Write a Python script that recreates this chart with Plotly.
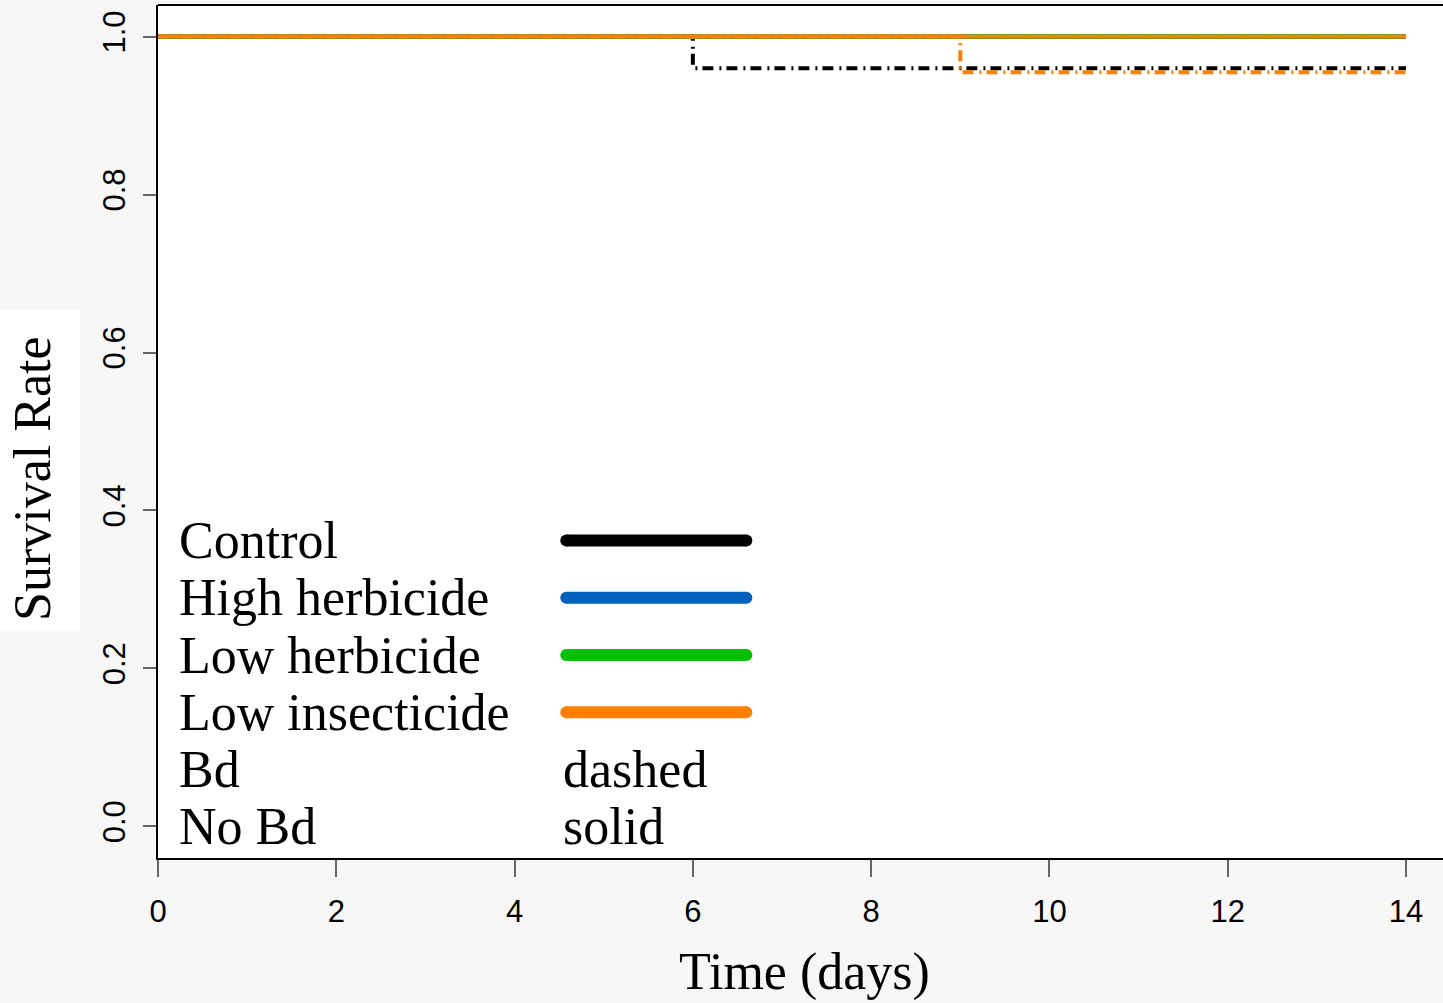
import plotly.graph_objects as go

# ---- data ----
times = [0, 6, 9, 14]
control_bd = [1.0, 0.96, 0.96, 0.96]
control_nobd = [1.0, 1.0, 1.0, 1.0]
high_herb_bd = [1.0, 1.0, 1.0, 1.0]
high_herb_nobd = [1.0, 1.0, 1.0, 1.0]
low_herb_bd = [1.0, 1.0, 1.0, 1.0]
low_herb_nobd = [1.0, 1.0, 1.0, 1.0]
low_insect_bd = [1.0, 1.0, 0.955, 0.955]
low_insect_nobd = [1.0, 1.0, 1.0, 1.0]

x_ticks = [0, 2, 4, 6, 8, 10, 12, 14]
y_ticks = [0.0, 0.2, 0.4, 0.6, 0.8, 1.0]
y_tick_labels = ["0.0", "0.2", "0.4", "0.6", "0.8", "1.0"]

treatments = ["Control", "High herbicide", "Low herbicide", "Low insecticide"]
treatment_colors = ["#000000", "#0060C0", "#00C000", "#FF8000"]
legend_extra = ["Bd", "No Bd"]
legend_extra_right = ["dashed", "solid"]

# ---- styles ----
BD_DASH = "11px,6px,2px,5px"
SERIF = "Palatino Linotype, Book Antiqua, Palatino, Liberation Serif, serif"
SANS = "Liberation Sans, Arial, sans-serif"

fig = go.Figure()

series = [
    (control_nobd, treatment_colors[0], "solid", 4),
    (high_herb_nobd, treatment_colors[1], "solid", 4),
    (control_bd, treatment_colors[0], BD_DASH, 4),
    (high_herb_bd, treatment_colors[1], BD_DASH, 4),
    (low_herb_nobd, treatment_colors[2], "solid", 4),
    (low_herb_bd, treatment_colors[2], BD_DASH, 4),
    (low_insect_nobd, treatment_colors[3], "solid", 4),
    (low_insect_bd, treatment_colors[3], BD_DASH, 4),
]
for vals, col, dash, w in series:
    fig.add_trace(go.Scatter(
        x=times, y=vals, mode="lines", line_shape="hv",
        line=dict(color=col, width=w, dash=dash),
        showlegend=False, hoverinfo="skip"))

# ---- manual legend ----
row_y = [0.362, 0.2895, 0.217, 0.1445, 0.072, -0.0005]
text_x = 0.215
swatch_x0, swatch_x1 = 4.58, 6.60
shapes = []
annotations = []
labels = treatments + legend_extra
for i, lab in enumerate(labels):
    annotations.append(dict(x=text_x, y=row_y[i], xref="x", yref="y", text=lab,
                            showarrow=False, xanchor="left", yanchor="middle",
                            font=dict(family=SERIF, size=52, color="#000000")))
for i, col in enumerate(treatment_colors):
    shapes.append(dict(type="line", xref="x", yref="y", x0=swatch_x0, x1=swatch_x1,
                       y0=row_y[i], y1=row_y[i], line=dict(color=col, width=12)))
    # rounded caps
    for cx in (swatch_x0, swatch_x1):
        shapes.append(dict(type="circle", xref="x", yref="y", xsizemode="pixel",
                           ysizemode="pixel", xanchor=cx, yanchor=row_y[i],
                           x0=-6, x1=6, y0=-6, y1=6, fillcolor=col,
                           line=dict(width=0)))
for j, txt in enumerate(legend_extra_right):
    annotations.append(dict(x=4.52, y=row_y[4 + j], xref="x", yref="y", text=txt,
                            showarrow=False, xanchor="left", yanchor="middle",
                            font=dict(family=SERIF, size=52, color="#000000")))

# axis titles
annotations.append(dict(x=0.5035, y=-0.1336, xref="paper", yref="paper",
                        text="Time (days)", showarrow=False, xanchor="center",
                        yanchor="middle", font=dict(family=SERIF, size=52, color="#000000")))
annotations.append(dict(x=-0.0973, y=0.4455, xref="paper", yref="paper",
                        text="Survival Rate", showarrow=False, textangle=-90,
                        xanchor="center", yanchor="middle",
                        font=dict(family=SERIF, size=52, color="#000000")))

# white box behind y title
shapes.append(dict(type="rect", xref="paper", yref="paper", x0=-0.1230, x1=-0.0607,
                   y0=0.2673, y1=0.6424, fillcolor="#ffffff", line=dict(width=0),
                   layer="below"))
# top frame line
shapes.append(dict(type="line", xref="paper", yref="paper", x0=0, x1=1, y0=1, y1=1,
                   line=dict(color="#000000", width=2)))

fig.update_layout(
    width=1443, height=1003,
    margin=dict(l=158, r=0, t=5, b=145),
    paper_bgcolor="#f7f7f7",
    plot_bgcolor="#ffffff",
    shapes=shapes,
    annotations=annotations,
    xaxis=dict(range=[0, 14.415], tickvals=x_ticks, ticks="outside", ticklen=17,
               tickwidth=1.5, tickcolor="#666666", showgrid=False, zeroline=False,
               showline=True, linecolor="#000000", linewidth=2,
               tickfont=dict(family=SANS, size=31, color="#000000"),
               ticklabelstandoff=8),
    yaxis=dict(range=[-0.04, 1.04], tickvals=y_ticks, ticktext=y_tick_labels,
               ticks="outside", ticklen=13, tickwidth=1.5, tickcolor="#666666",
               showgrid=False, zeroline=False, showline=True, linecolor="#000000",
               linewidth=2, tickangle=-90,
               tickfont=dict(family=SANS, size=31, color="#000000"),
               ticklabelstandoff=6),
)

fig.write_html("out.html")
